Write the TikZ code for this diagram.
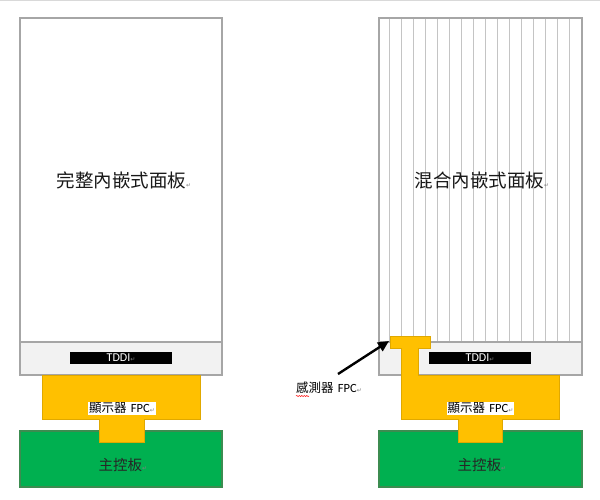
\documentclass[tikz,border=0pt]{standalone}
\usepackage{fontspec}
\setmainfont{Carlito}
\newfontfamily\cjk{Noto Sans CJK TC}
\newfontfamily\symf{DejaVu Sans}
\usetikzlibrary{arrows.meta,decorations.pathmorphing}
\definecolor{pgray}{HTML}{A6A6A6}
\definecolor{stripecol}{HTML}{C4C4C4}
\definecolor{stripfill}{HTML}{F2F2F2}
\definecolor{fpc}{HTML}{FFC000}
\definecolor{fpcedge}{HTML}{E0A800}
\definecolor{board}{HTML}{00B050}
\definecolor{boardedge}{HTML}{3C8C50}
\newcommand{\retmark}{{\symf\fontsize{6}{6}\selectfont\color{gray}↵}}
\begin{document}
\begin{tikzpicture}[x=1pt,y=-1pt,
  box/.style={anchor=north west, inner sep=0pt, outer sep=0pt, draw=pgray, line width=1.2pt},
  panelbox/.style={box, fill=white},
  stripbox/.style={box, fill=stripfill},
  tddibox/.style={anchor=north west, inner sep=0pt, outer sep=0pt, fill=black, text=white, font=\fontsize{12}{12}\selectfont},
  boardbox/.style={box, draw=boardedge, fill=board},
  fpcshape/.style={fill=fpc, draw=fpcedge, line width=0.6pt},
  titletext/.style={font=\cjk\fontsize{18.5}{20}\selectfont, text=black!90},
  fpclabel/.style={fill=white, inner sep=1pt, font=\fontsize{12.5}{14}\selectfont},
  boardlabel/.style={font=\cjk\fontsize{14.5}{16}\selectfont, text=black!85},
  stripeline/.style={draw=stripecol, line width=1pt}
]
\useasboundingbox (0,0) rectangle (600,499);
\draw[black!15, line width=0.8pt] (0,0.5) -- (600,0.5);

% ---------------- left ----------------
\node[panelbox, minimum width=202pt, minimum height=324pt] (lpanel) at (20,18) {};
\node[stripbox, minimum width=202pt, minimum height=33pt] (lstrip) at (20,342) {};
\node[tddibox, minimum width=102pt, minimum height=12pt] (ltddi) at (70,352) {TDDI\retmark};
\node[boardbox, minimum width=202pt, minimum height=56pt] (lboard) at (20,431) {};
\draw[fpcshape] (42,375) -- (200,375) -- (200,419) -- (144,419) -- (144,442) -- (99,442) -- (99,419) -- (42,419) -- cycle;
\node[titletext] (ltitle) at (124,180) {完整內嵌式面板\retmark};
\node[fpclabel] (lfpc) at (122,408.5) {{\cjk 顯示器}\,\,FPC\retmark};
\node[boardlabel] (lboardtxt) at (123,465) {主控板\retmark};

% ---------------- right ----------------
\node[panelbox, minimum width=203pt, minimum height=324pt] (rpanel) at (379,18) {};
\foreach \k in {0,...,15} {
  \draw[stripeline] ({389+12*\k},18.6) -- ({389+12*\k},341.4);
}
\node[stripbox, minimum width=203pt, minimum height=33pt] (rstrip) at (379,342) {};
\node[tddibox, minimum width=102pt, minimum height=12pt] (rtddi) at (429,352) {TDDI\retmark};
\node[boardbox, minimum width=203pt, minimum height=56pt] (rboard) at (379,431) {};
\draw[fpcshape] (390,336) -- (430,336) -- (430,348) -- (418,348) -- (418,375) -- (559,375) -- (559,419) -- (502,419) -- (502,442) -- (458,442) -- (458,419) -- (401,419) -- (401,348) -- (390,348) -- cycle;
\coordinate (sensortip) at (389,341);
\node[titletext] (rtitle) at (482,180) {混合內嵌式面板\retmark};
\node[fpclabel] (rfpc) at (480.5,408.5) {{\cjk 顯示器}\,\,FPC\retmark};
\node[boardlabel] (rboardtxt) at (482,465) {主控板\retmark};

\node[inner sep=0pt, font=\fontsize{12.5}{14}\selectfont] (sensorlbl) at (329,388) {{\cjk 感測器}\,\,FPC\retmark};
\coordinate (arrowtail) at (338,374);
\draw[line width=2.4pt, -{Triangle[length=11pt,width=10pt]}] (arrowtail) -- (sensortip);
\draw[red, line width=0.5pt, decorate, decoration={snake, amplitude=0.6pt, segment length=2.5pt}] (296,396) -- (309,396);
\end{tikzpicture}
\end{document}
